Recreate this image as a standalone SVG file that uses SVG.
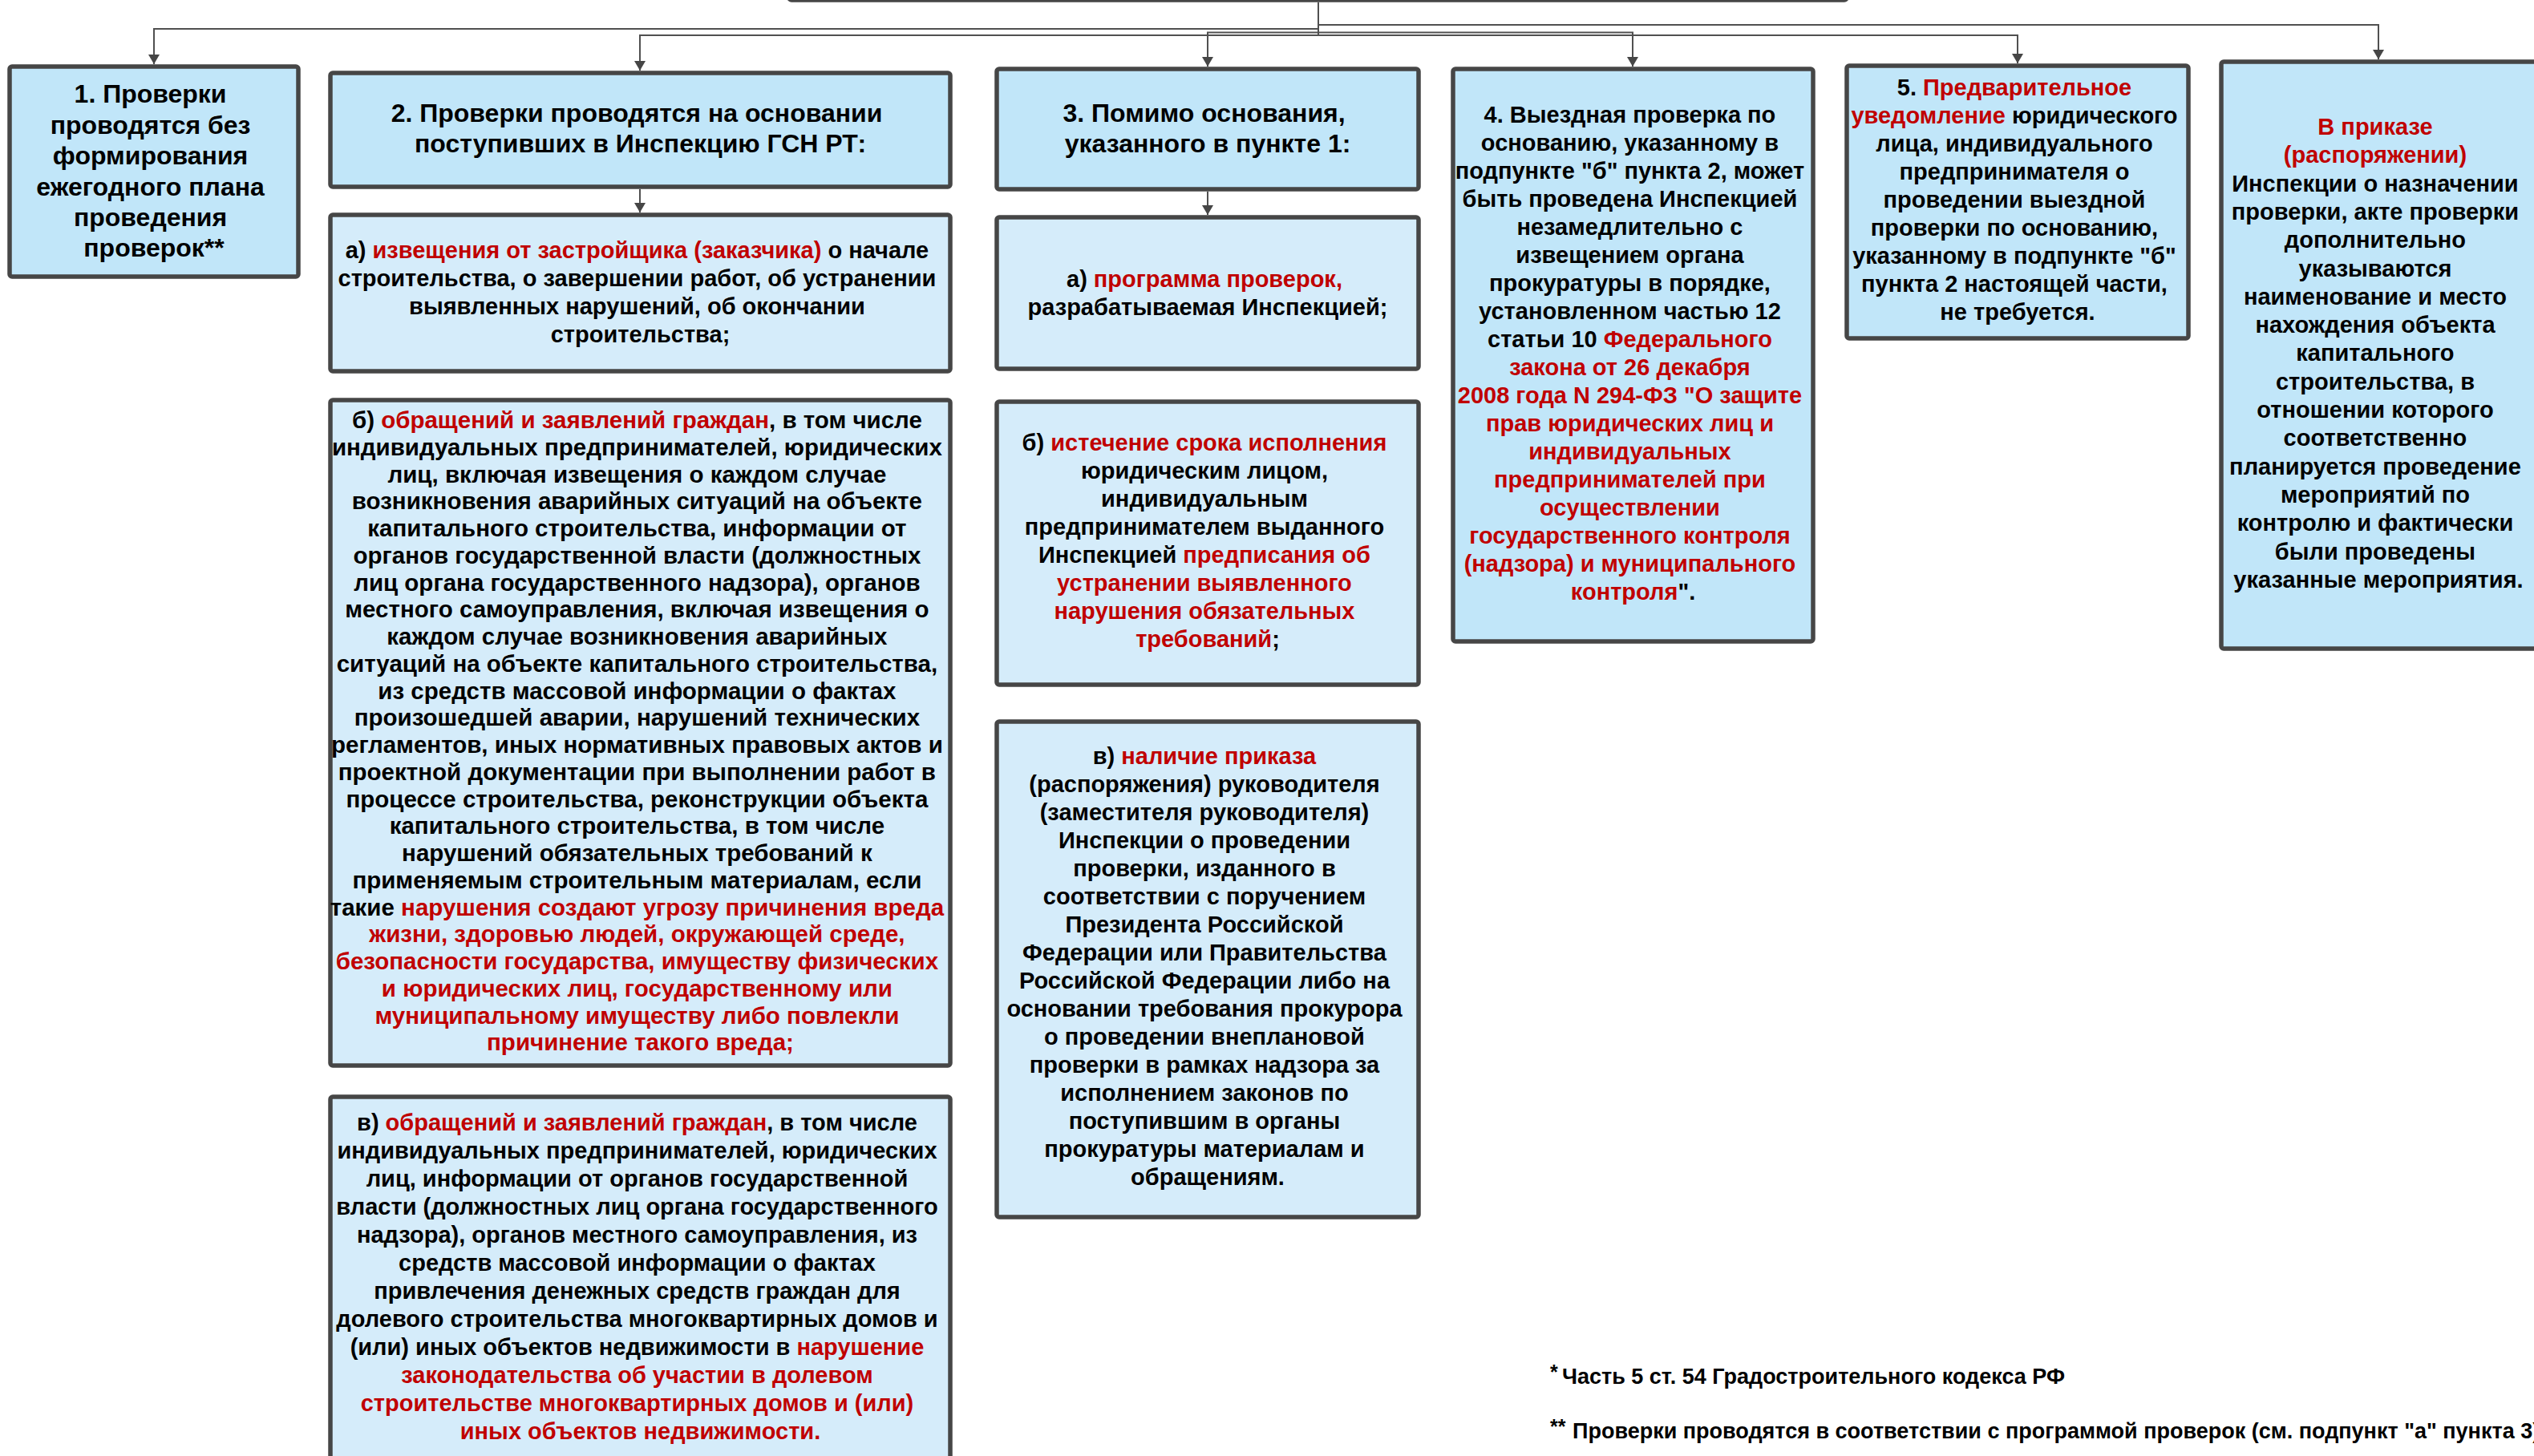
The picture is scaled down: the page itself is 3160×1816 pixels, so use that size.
<svg xmlns="http://www.w3.org/2000/svg" width="3160" height="1816" viewBox="0 0 3160 1816">
<style>
.hdr{fill:#C1E6F9;stroke:#464646;stroke-width:5.5}
.sub{fill:#D5ECFA;stroke:#464646;stroke-width:5.5}
text{font-family:"Liberation Sans",Arial,sans-serif;font-weight:bold;fill:#000;text-anchor:middle}
.f32{font-size:32px}
.f29{font-size:29px}
.f28{font-size:29.5px}
.r{fill:#C00000}
.conn{fill:none;stroke:#505050;stroke-width:2}
.fn{font-size:27px;text-anchor:start}
.fs{font-size:25px;text-anchor:start}
</style>
<defs>
<marker id="ah" markerUnits="userSpaceOnUse" markerWidth="14" markerHeight="14" refX="12" refY="7" orient="auto">
<path d="M0,0 L12,7 L0,14 z" fill="#464646"/>
</marker>
</defs>
<rect width="3160" height="1816" fill="#fff"/>

<g id="connectors">
<path class="conn" d="M1644,3 V36 H192 V80" marker-end="url(#ah)"/>
<path class="conn" d="M1644,3 V44 H798 V88" marker-end="url(#ah)"/>
<path class="conn" d="M1644,3 V40.5 H1506 V83" marker-end="url(#ah)"/>
<path class="conn" d="M1644,3 V40.5 H2036 V83" marker-end="url(#ah)"/>
<path class="conn" d="M1644,3 V44 H2516 V79" marker-end="url(#ah)"/>
<path class="conn" d="M1644,3 V31 H2966 V74" marker-end="url(#ah)"/>
<path class="conn" d="M798,236 V265" marker-end="url(#ah)"/>
<path class="conn" d="M1506,239 V268" marker-end="url(#ah)"/>
</g>

<g id="top">
<rect class="hdr" x="984" y="-200" width="1319" height="200" rx="3"/>
</g>

<g id="n1">
<rect class="hdr" x="12" y="83" width="360" height="262" rx="3"/>
<text class="f32">
<tspan x="192" y="128">1. Проверки</tspan>
<tspan x="192" y="166.5">проводятся без</tspan>
<tspan x="192" y="205">формирования</tspan>
<tspan x="192" y="243.5">ежегодного плана</tspan>
<tspan x="192" y="282">проведения</tspan>
<tspan x="192" y="320">проверок**</tspan>
</text>
</g>

<g id="n2">
<rect class="hdr" x="412" y="91" width="773" height="142" rx="3"/>
<text class="f32">
<tspan x="798.5" y="152">2. Проверки проводятся на основании</tspan>
<tspan x="798.5" y="190">поступивших в Инспекцию ГСН РТ:</tspan>
</text>
</g>

<g id="n2a">
<rect class="sub" x="412" y="268" width="773" height="195" rx="3"/>
<text class="f29">
<tspan x="798.5" y="322">а) <tspan class="r">извещения от застройщика (заказчика)</tspan> о начале</tspan>
<tspan x="798.5" y="357">строительства, о завершении работ, об устранении</tspan>
<tspan x="798.5" y="392">выявленных нарушений, об окончании</tspan>
<tspan x="798.5" y="427">строительства;</tspan>
</text>
</g>

<g id="n2b">
<rect class="sub" x="412" y="499" width="773" height="830" rx="3"/>
<text class="f28">
<tspan x="798.5" y="534">б) <tspan class="r">обращений и заявлений граждан</tspan>, в том числе</tspan>
<tspan x="798.5" y="567.75">индивидуальных предпринимателей, юридических</tspan>
<tspan x="798.5" y="601.5">лиц, включая извещения о каждом случае</tspan>
<tspan x="798.5" y="635.25">возникновения аварийных ситуаций на объекте</tspan>
<tspan x="798.5" y="669">капитального строительства, информации от</tspan>
<tspan x="798.5" y="702.75">органов государственной власти (должностных</tspan>
<tspan x="798.5" y="736.5">лиц органа государственного надзора), органов</tspan>
<tspan x="798.5" y="770.25">местного самоуправления, включая извещения о</tspan>
<tspan x="798.5" y="804">каждом случае возникновения аварийных</tspan>
<tspan x="798.5" y="837.75">ситуаций на объекте капитального строительства,</tspan>
<tspan x="798.5" y="871.5">из средств массовой информации о фактах</tspan>
<tspan x="798.5" y="905.25">произошедшей аварии, нарушений технических</tspan>
<tspan x="798.5" y="939">регламентов, иных нормативных правовых актов и</tspan>
<tspan x="798.5" y="972.75">проектной документации при выполнении работ в</tspan>
<tspan x="798.5" y="1006.5">процессе строительства, реконструкции объекта</tspan>
<tspan x="798.5" y="1040.25">капитального строительства, в том числе</tspan>
<tspan x="798.5" y="1074">нарушений обязательных требований к</tspan>
<tspan x="798.5" y="1107.75">применяемым строительным материалам, если</tspan>
<tspan x="798.5" y="1141.5">такие <tspan class="r">нарушения создают угрозу причинения вреда</tspan></tspan>
<tspan x="798.5" y="1175.25" class="r">жизни, здоровью людей, окружающей среде,</tspan>
<tspan x="798.5" y="1209" class="r">безопасности государства, имуществу физических</tspan>
<tspan x="798.5" y="1242.75" class="r">и юридических лиц, государственному или</tspan>
<tspan x="798.5" y="1276.5" class="r">муниципальному имуществу либо повлекли</tspan>
<tspan x="798.5" y="1310.25" class="r">причинение такого вреда;</tspan>
</text>
</g>

<g id="n2c">
<rect class="sub" x="412" y="1368" width="773" height="520" rx="3"/>
<text class="f29">
<tspan x="798.5" y="1410">в) <tspan class="r">обращений и заявлений граждан</tspan>, в том числе</tspan>
<tspan x="798.5" y="1445">индивидуальных предпринимателей, юридических</tspan>
<tspan x="798.5" y="1480">лиц, информации от органов государственной</tspan>
<tspan x="798.5" y="1515">власти (должностных лиц органа государственного</tspan>
<tspan x="798.5" y="1550">надзора), органов местного самоуправления, из</tspan>
<tspan x="798.5" y="1585">средств массовой информации о фактах</tspan>
<tspan x="798.5" y="1620">привлечения денежных средств граждан для</tspan>
<tspan x="798.5" y="1655">долевого строительства многоквартирных домов и</tspan>
<tspan x="798.5" y="1690">(или) иных объектов недвижимости в <tspan class="r">нарушение</tspan></tspan>
<tspan x="798.5" y="1725" class="r">законодательства об участии в долевом</tspan>
<tspan x="798.5" y="1760" class="r">строительстве многоквартирных домов и (или)</tspan>
<tspan x="798.5" y="1795" class="r">иных объектов недвижимости.</tspan>
</text>
</g>

<g id="n3">
<rect class="hdr" x="1243" y="86" width="526" height="150" rx="3"/>
<text class="f32">
<tspan x="1506" y="152">3. Помимо основания,</tspan>
<tspan x="1506" y="190">указанного в пункте 1:</tspan>
</text>
</g>

<g id="n3a">
<rect class="sub" x="1243" y="271" width="526" height="189" rx="3"/>
<text class="f29">
<tspan x="1506" y="358">а) <tspan class="r">программа проверок,</tspan></tspan>
<tspan x="1506" y="393">разрабатываемая Инспекцией;</tspan>
</text>
</g>

<g id="n3b">
<rect class="sub" x="1243" y="501" width="526" height="353" rx="3"/>
<text class="f29">
<tspan x="1506" y="562">б) <tspan class="r">истечение срока исполнения</tspan></tspan>
<tspan x="1506" y="597">юридическим лицом,</tspan>
<tspan x="1506" y="632">индивидуальным</tspan>
<tspan x="1506" y="667">предпринимателем выданного</tspan>
<tspan x="1506" y="702">Инспекцией <tspan class="r">предписания об</tspan></tspan>
<tspan x="1506" y="737" class="r">устранении выявленного</tspan>
<tspan x="1506" y="772" class="r">нарушения обязательных</tspan>
<tspan x="1506" y="807"><tspan class="r">требований</tspan>;</tspan>
</text>
</g>

<g id="n3c">
<rect class="sub" x="1243" y="900" width="526" height="618" rx="3"/>
<text class="f29">
<tspan x="1506" y="953">в) <tspan class="r">наличие приказа</tspan></tspan>
<tspan x="1506" y="988">(распоряжения) руководителя</tspan>
<tspan x="1506" y="1023">(заместителя руководителя)</tspan>
<tspan x="1506" y="1058">Инспекции о проведении</tspan>
<tspan x="1506" y="1093">проверки, изданного в</tspan>
<tspan x="1506" y="1128">соответствии с поручением</tspan>
<tspan x="1506" y="1163">Президента Российской</tspan>
<tspan x="1506" y="1198">Федерации или Правительства</tspan>
<tspan x="1506" y="1233">Российской Федерации либо на</tspan>
<tspan x="1506" y="1268">основании требования прокурора</tspan>
<tspan x="1506" y="1303">о проведении внеплановой</tspan>
<tspan x="1506" y="1338">проверки в рамках надзора за</tspan>
<tspan x="1506" y="1373">исполнением законов по</tspan>
<tspan x="1506" y="1408">поступившим в органы</tspan>
<tspan x="1506" y="1443">прокуратуры материалам и</tspan>
<tspan x="1506" y="1478">обращениям.</tspan>
</text>
</g>

<g id="n4">
<rect class="hdr" x="1812" y="86" width="449" height="714" rx="3"/>
<text class="f29">
<tspan x="2036.5" y="153">4. Выездная проверка по</tspan>
<tspan x="2036.5" y="188">основанию, указанному в</tspan>
<tspan x="2036.5" y="223">подпункте "б" пункта 2, может</tspan>
<tspan x="2036.5" y="258">быть проведена Инспекцией</tspan>
<tspan x="2036.5" y="293">незамедлительно с</tspan>
<tspan x="2036.5" y="328">извещением органа</tspan>
<tspan x="2036.5" y="363">прокуратуры в порядке,</tspan>
<tspan x="2036.5" y="398">установленном частью 12</tspan>
<tspan x="2036.5" y="433">статьи 10 <tspan class="r">Федерального</tspan></tspan>
<tspan x="2036.5" y="468" class="r">закона от 26 декабря</tspan>
<tspan x="2036.5" y="503" class="r">2008 года N 294-ФЗ "О защите</tspan>
<tspan x="2036.5" y="538" class="r">прав юридических лиц и</tspan>
<tspan x="2036.5" y="573" class="r">индивидуальных</tspan>
<tspan x="2036.5" y="608" class="r">предпринимателей при</tspan>
<tspan x="2036.5" y="643" class="r">осуществлении</tspan>
<tspan x="2036.5" y="678" class="r">государственного контроля</tspan>
<tspan x="2036.5" y="713" class="r">(надзора) и муниципального</tspan>
<tspan x="2036.5" y="748"><tspan class="r">контроля</tspan>".</tspan>
</text>
</g>

<g id="n5">
<rect class="hdr" x="2303" y="82" width="426" height="340" rx="3"/>
<text class="f29">
<tspan x="2516" y="119">5. <tspan class="r">Предварительное</tspan></tspan>
<tspan x="2516" y="154"><tspan class="r">уведомление</tspan> юридического</tspan>
<tspan x="2516" y="189">лица, индивидуального</tspan>
<tspan x="2516" y="224">предпринимателя о</tspan>
<tspan x="2516" y="259">проведении выездной</tspan>
<tspan x="2516" y="294">проверки по основанию,</tspan>
<tspan x="2516" y="329">указанному в подпункте "б"</tspan>
<tspan x="2516" y="364">пункта 2 настоящей части,</tspan>
<tspan x="2516" y="399">не требуется.</tspan>
</text>
</g>

<g id="n6">
<rect class="hdr" x="2770" y="77" width="394" height="732" rx="3"/>
<text class="f29">
<tspan x="2966" y="168" class="r">В приказе</tspan>
<tspan x="2966" y="203.3" class="r">(распоряжении)</tspan>
<tspan x="2966" y="238.6">Инспекции о назначении</tspan>
<tspan x="2966" y="273.9">проверки, акте проверки</tspan>
<tspan x="2966" y="309.2">дополнительно</tspan>
<tspan x="2966" y="344.5">указываются</tspan>
<tspan x="2966" y="379.8">наименование и место</tspan>
<tspan x="2966" y="415.1">нахождения объекта</tspan>
<tspan x="2966" y="450.4">капитального</tspan>
<tspan x="2966" y="485.7">строительства, в</tspan>
<tspan x="2966" y="521">отношении которого</tspan>
<tspan x="2966" y="556.3">соответственно</tspan>
<tspan x="2966" y="591.6">планируется проведение</tspan>
<tspan x="2966" y="626.9">мероприятий по</tspan>
<tspan x="2966" y="662.2">контролю и фактически</tspan>
<tspan x="2966" y="697.5">были проведены</tspan>
<tspan x="2966" y="732.8">указанные мероприятия.</tspan>
</text>
</g>

<g id="footnotes">
<text class="fs" x="1933" y="1720">*</text>
<text class="fn" x="1948" y="1726">Часть 5 ст. 54 Градостроительного кодекса РФ</text>
<text class="fs" x="1933" y="1788">**</text>
<text class="fn" x="1961" y="1794">Проверки проводятся в соответствии с программой проверок (см. подпункт "а" пункта 3)</text>
</g>
</svg>
